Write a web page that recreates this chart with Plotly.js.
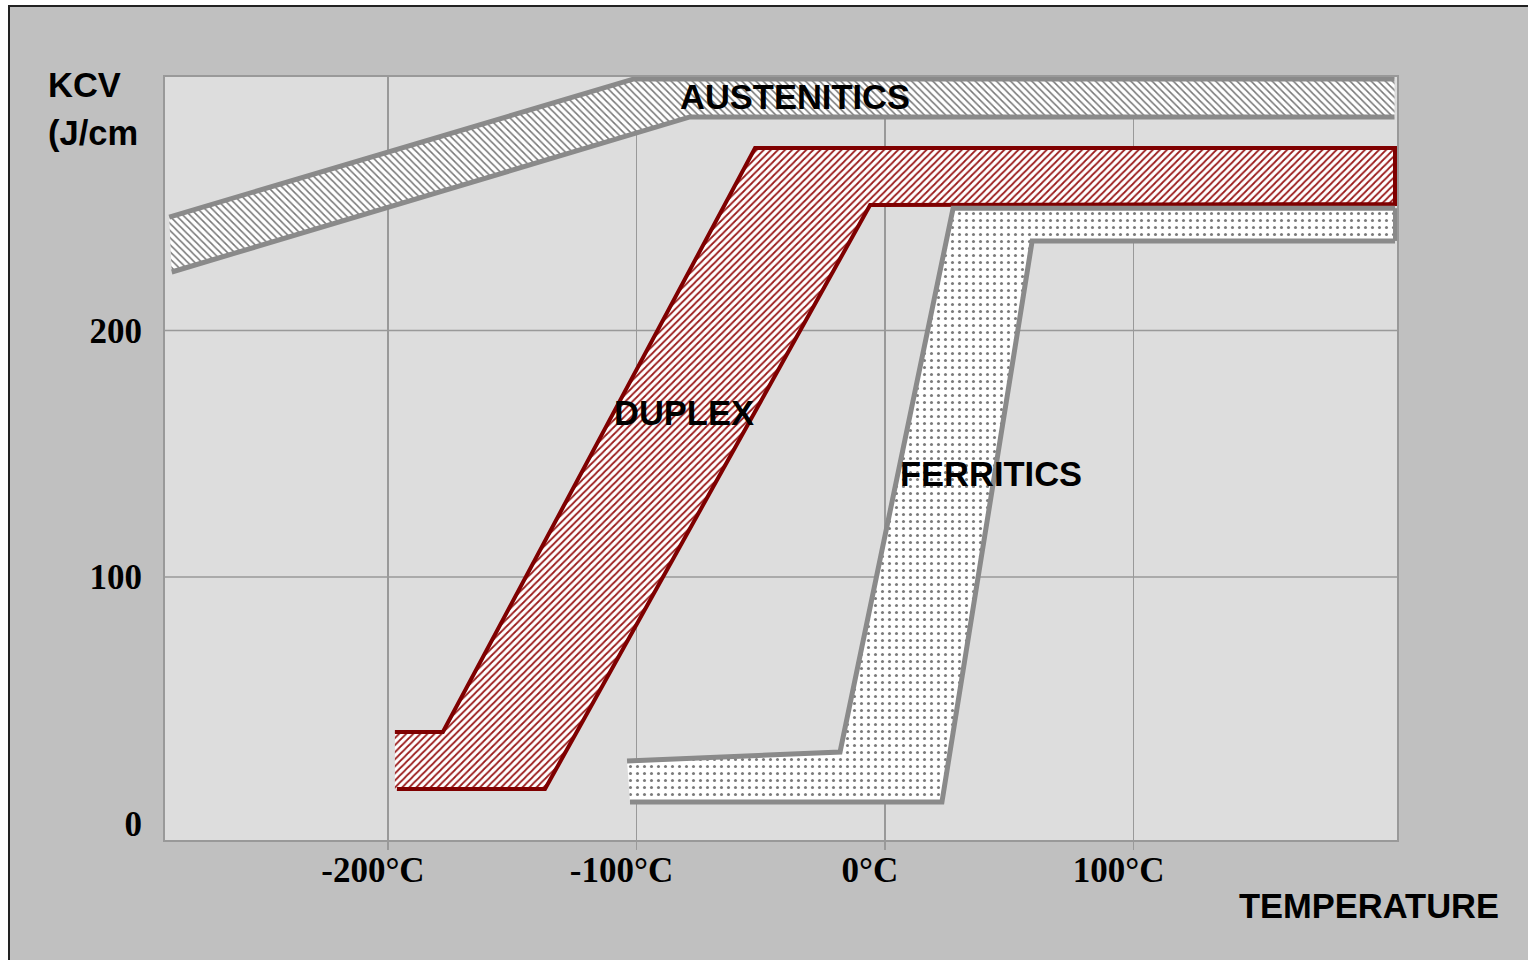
<!DOCTYPE html>
<html>
<head>
<meta charset="utf-8">
<script src="https://cdn.plot.ly/plotly-3.0.1.min.js"></script>
<style>
  html, body { margin: 0; padding: 0; background: #ffffff; width: 1528px; height: 960px; overflow: hidden; }
  #frame { position: absolute; left: 8px; top: 5px; width: 1520px; height: 955px;
           border-top: 2px solid #222; border-left: 2px solid #222; background: #c0c0c0; }
  #chart { position: absolute; left: 0; top: 0; width: 1518px; height: 953px; }
</style>
</head>
<body>
<div id="frame"><div id="chart"></div></div>
<script>
// ---- Data (temperature in °C, KCV in J/cm²) ----
const xTickVals = [-200, -100, 0, 100];
const xTickText = ["-200°C", "-100°C", "0°C", "100°C"];
const yTickVals = [0, 100, 200];
const yTickText = ["0", "100", "200"];
const yGridVals = [100, 200];

// Austenitic band
const austUpperX = [-288, -101, 205];
const austUpperY = [246, 302, 302];
const austLowerX = [-287, -78.5, 205];
const austLowerY = [223.7, 286.6, 286.6];

// Duplex band (outline polygon)
const duplexX = [-197.2, -177.9, -52.3, 205.2, 205.2, -6.0, -136.8, -197.2];
const duplexY = [37.1, 37.1, 274.0, 274.0, 251.3, 250.9, 14.0, 14.0];
// Duplex outlined edges (left end open)
const duplexEdgeX = [-197.2, -177.9, -52.3, 205.2, 205.2, -6.0, -136.8, -196.4];
const duplexEdgeY = [37.1, 37.1, 274.0, 274.0, 251.3, 250.9, 14.0, 14.0];

// Ferritic band
const ferrUpperX = [-103.8, -18.1, 27.4, 205.2];
const ferrUpperY = [25.4, 29.0, 249.6, 249.6];
const ferrLowerX = [-102.6, 22.9, 59.2, 205.2];
const ferrLowerY = [8.7, 8.7, 236.3, 236.3];

// Labels
const bandLabels = ["AUSTENITICS", "DUPLEX", "FERRITICS"];
const bandLabelX = [-36.2, -80.9, 42.7];
const bandLabelY = [294.7, 166.5, 141.8];

// ---- Build traces ----
function polyFrom(ux, uy, lx, ly) {
  return {
    x: ux.concat(lx.slice().reverse(), [ux[0]]),
    y: uy.concat(ly.slice().reverse(), [uy[0]])
  };
}
const austPoly = polyFrom(austUpperX, austUpperY, austLowerX, austLowerY);
const ferrPoly = polyFrom(ferrUpperX, ferrUpperY, ferrLowerX, ferrLowerY);

const grayLine = '#8a8a8a';
const red = '#7f0000';

const traces = [
  { x: austPoly.x, y: austPoly.y, mode: 'lines', fill: 'toself', line: {width: 0, color: 'rgba(0,0,0,0)'},
    fillcolor: 'white',
    fillpattern: {shape: '\\', fgcolor: '#777', bgcolor: 'white', size: 5, solidity: 0.3}, hoverinfo: 'skip' },
  { x: austUpperX, y: austUpperY, mode: 'lines', line: {color: grayLine, width: 5}, hoverinfo: 'skip' },
  { x: austLowerX, y: austLowerY, mode: 'lines', line: {color: grayLine, width: 5}, hoverinfo: 'skip' },

  { x: duplexX, y: duplexY, mode: 'lines', fill: 'toself', line: {width: 0, color: 'rgba(0,0,0,0)'},
    fillcolor: 'white',
    fillpattern: {shape: '/', fgcolor: '#9a1a1a', bgcolor: 'white', size: 5, solidity: 0.35}, hoverinfo: 'skip' },
  { x: duplexEdgeX, y: duplexEdgeY, mode: 'lines', line: {color: red, width: 4}, hoverinfo: 'skip' },

  { x: ferrPoly.x, y: ferrPoly.y, mode: 'lines', fill: 'toself', line: {width: 0, color: 'rgba(0,0,0,0)'},
    fillcolor: 'white',
    fillpattern: {shape: '.', fgcolor: '#7a7a7a', bgcolor: 'white', size: 7, solidity: 0.15}, hoverinfo: 'skip' },
  { x: ferrUpperX, y: ferrUpperY, mode: 'lines', line: {color: grayLine, width: 5}, hoverinfo: 'skip' },
  { x: ferrLowerX, y: ferrLowerY, mode: 'lines', line: {color: grayLine, width: 5}, hoverinfo: 'skip' },
  { x: [ferrUpperX[3], ferrLowerX[3]], y: [ferrUpperY[3], ferrLowerY[3]], mode: 'lines', line: {color: grayLine, width: 4}, hoverinfo: 'skip' }
];

const labelFont = {family: 'Liberation Sans, Arial, sans-serif', size: 34.5, color: '#000'};
const annotations = bandLabels.map((t, i) => ({
  text: '<b>' + t + '</b>', x: bandLabelX[i], y: bandLabelY[i], xref: 'x', yref: 'y',
  showarrow: false, font: labelFont, xanchor: 'center', yanchor: 'middle'
}));
annotations.push(
  {text: '<b>KCV</b>', xref: 'paper', yref: 'paper', x: -0.0966, y: 0.9895, xanchor: 'left', yanchor: 'middle', showarrow: false, font: labelFont},
  {text: '<b>(J/cm</b>', xref: 'paper', yref: 'paper', x: -0.0966, y: 0.9266, xanchor: 'left', yanchor: 'middle', showarrow: false, font: labelFont},
  {text: '<b>TEMPERATURE</b>', xref: 'paper', yref: 'paper', x: 0.977, y: -0.0865, xanchor: 'center', yanchor: 'middle', showarrow: false, font: labelFont}
);

const shapes = yGridVals.map(v => ({
  type: 'line', xref: 'paper', yref: 'y', x0: 0, x1: 1, y0: v, y1: v, layer: 'below',
  line: {color: '#999', width: 1.5}
}));

const tickFont = {family: 'Liberation Serif, Times New Roman, serif', size: 35, color: '#000', weight: 'bold'};

const layout = {
  width: 1518, height: 953,
  margin: {l: 155, r: 131, t: 70, b: 120, pad: 0},
  paper_bgcolor: '#c0c0c0', plot_bgcolor: '#dddddd',
  showlegend: false,
  xaxis: {
    range: [-289.7, 206.0], tickmode: 'array', tickvals: xTickVals, ticktext: xTickText,
    showgrid: true, gridcolor: '#999', gridwidth: 1.5, zeroline: false,
    ticks: 'outside', ticklen: 8, tickcolor: '#999', tickwidth: 1.5,
    showline: true, linecolor: '#999', linewidth: 2, mirror: true,
    tickfont: tickFont, ticklabelshift: -15, ticklabelstandoff: -10, fixedrange: true
  },
  yaxis: {
    range: [-6.69, 302.8], tickmode: 'array', tickvals: yTickVals, ticktext: yTickText,
    showgrid: false, zeroline: false, ticks: '',
    showline: true, linecolor: '#999', linewidth: 2, mirror: true,
    tickfont: tickFont, ticklabelstandoff: 14, fixedrange: true
  },
  annotations: annotations,
  shapes: shapes
};

Plotly.newPlot('chart', traces, layout, {staticPlot: true, displayModeBar: false});
</script>
</body>
</html>
